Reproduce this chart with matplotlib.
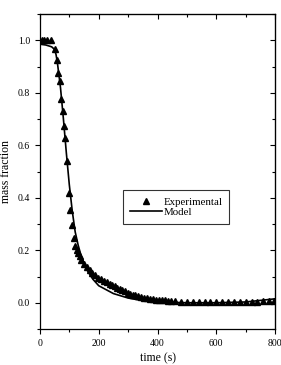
import matplotlib.pyplot as plt
import numpy as np
from matplotlib.ticker import MultipleLocator

plt.rcParams['font.family'] = ['Liberation Serif', 'DejaVu Serif']

# experimental points (time s, mass fraction)
t_exp = [6, 15, 25, 37, 51, 57, 62, 68, 73, 77, 81, 85, 93, 99, 104, 109, 115,
         121, 126, 131, 136, 140, 150, 160, 170, 178, 188, 198, 208, 218, 228,
         237, 246, 254, 262, 271, 280, 288, 298, 307, 316, 325, 335, 345, 355,
         365, 375, 385, 395, 405, 415, 425, 435, 445, 460, 480, 500, 520, 540,
         560, 580, 600, 620, 640, 660, 680, 700, 720, 740, 760, 780, 797]
m_exp = [1.0, 1.0, 1.0, 1.0, 0.968, 0.924, 0.877, 0.846, 0.775, 0.732, 0.675,
         0.627, 0.539, 0.42, 0.352, 0.297, 0.246, 0.215, 0.202, 0.19, 0.18,
         0.164, 0.148, 0.136, 0.124, 0.114, 0.104, 0.095, 0.089, 0.084, 0.078,
         0.072, 0.067, 0.063, 0.058, 0.053, 0.048, 0.044, 0.039, 0.035, 0.031,
         0.028, 0.025, 0.022, 0.02, 0.018, 0.016, 0.014, 0.012, 0.011, 0.01,
         0.009, 0.008, 0.007, 0.005, 0.004, 0.004, 0.003, 0.003, 0.003, 0.003,
         0.003, 0.003, 0.003, 0.003, 0.003, 0.004, 0.004, 0.004, 0.005, 0.005,
         0.006]

# model curve
t_mod = [0, 20, 40, 50, 55, 60, 70, 80, 90, 100, 110, 120, 130, 140, 160, 180,
         200, 250, 300, 350, 400, 500, 600, 700, 800]
m_mod = [0.985, 0.982, 0.975, 0.965, 0.945, 0.91, 0.82, 0.70, 0.57, 0.45, 0.35,
         0.27, 0.22, 0.18, 0.125, 0.09, 0.065, 0.035, 0.018, 0.008, 0.003, 0.0,
         0.0, 0.003, 0.015]

fig = plt.figure(figsize=(2.81, 3.65), dpi=100)
ax = fig.add_axes([0.142, 0.0986, 0.837, 0.863])

ax.plot(t_exp, m_exp, '^', color='black', markersize=4.6, label='Experimental')
ax.plot(t_mod, m_mod, '-', color='black', linewidth=1.2, label='Model')

ax.set_xlim(0, 800)
ax.set_ylim(-0.1, 1.1)
ax.xaxis.set_major_locator(MultipleLocator(200))
ax.xaxis.set_minor_locator(MultipleLocator(100))
ax.set_yticks([0.0, 0.2, 0.4, 0.6, 0.8, 1.0])
ax.set_yticklabels(['0.0', '0.2', '0.4', '0.6', '0.8', '1.0'])
ax.yaxis.set_minor_locator(MultipleLocator(0.1))

# left/bottom ticks point out
ax.tick_params(which='both', direction='out', labelsize=7, width=0.8)
ax.tick_params(which='major', length=3.5)
ax.tick_params(which='minor', length=2)

# top/right ticks point in
top = ax.secondary_xaxis('top')
top.xaxis.set_major_locator(MultipleLocator(200))
top.xaxis.set_minor_locator(MultipleLocator(100))
top.tick_params(which='both', direction='in', labeltop=False, width=0.8)
top.tick_params(which='major', length=3.5)
top.tick_params(which='minor', length=2)
right = ax.secondary_yaxis('right')
right.yaxis.set_major_locator(MultipleLocator(0.2))
right.yaxis.set_minor_locator(MultipleLocator(0.1))
right.tick_params(which='both', direction='in', labelright=False, width=0.8)
right.tick_params(which='major', length=3.5)
right.tick_params(which='minor', length=2)

for s in ax.spines.values():
    s.set_linewidth(0.9)

ax.set_xlabel('time (s)', fontsize=8.5, labelpad=3)
ax.set_ylabel('mass fraction', fontsize=8.5, labelpad=4)

leg = ax.legend(loc='upper left', bbox_to_anchor=(0.354, 0.441), fontsize=7.8,
                frameon=True, fancybox=False, edgecolor='black',
                handlelength=2.9, borderpad=0.65, labelspacing=0.05,
                handletextpad=0.15, borderaxespad=0)
leg.get_frame().set_linewidth(0.8)

fig.savefig('out.png', dpi=100)
